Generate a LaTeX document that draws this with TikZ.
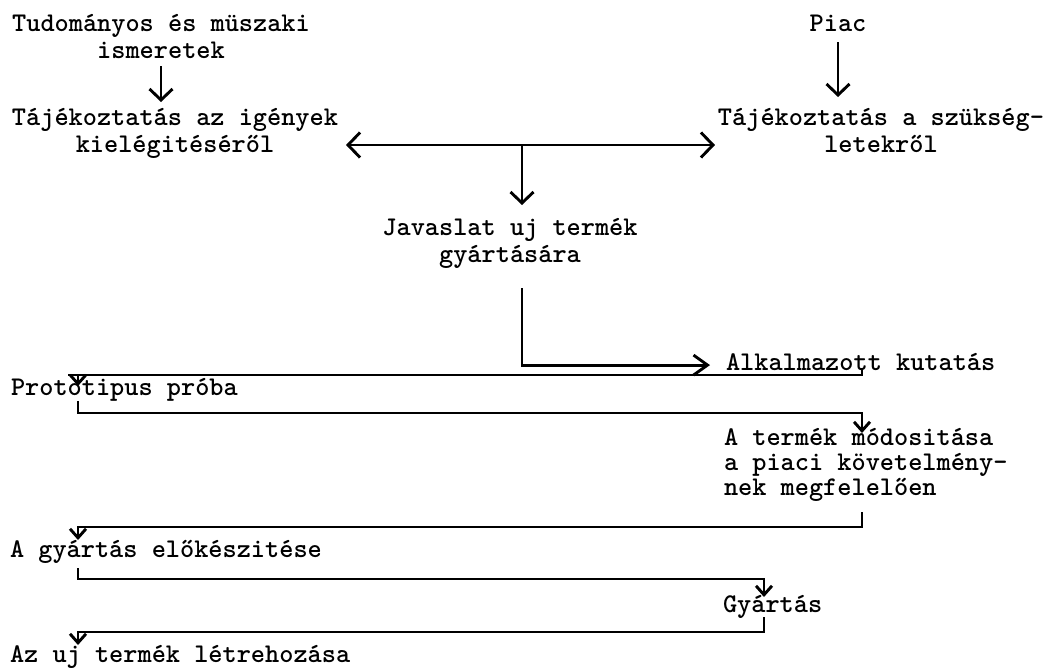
\documentclass[tikz,border=0pt]{standalone}
\usetikzlibrary{arrows.meta,calc}
% fixed height for the first line of every label, so tops line up
\newcommand\hstr{\rule{0pt}{22pt}}
\begin{document}
\begin{tikzpicture}[x=1pt,y=-1pt,
  every node/.style={inner sep=0pt, outer sep=0pt,
    font=\ttfamily\bfseries\fontsize{27}{27}\selectfont},
  lbl/.style={anchor=north west, align=left},
  clbl/.style={anchor=north, align=center},
  link/.style={line width=2.9pt, line cap=butt},
  bigtip/.style={-{Straight Barb[length=11pt,width=23pt]}},
  midtip/.style={-{Straight Barb[length=14pt,width=20pt]}},
  smalltip/.style={-{Straight Barb[length=9pt,width=16pt]}},
  bothtips/.style={{Straight Barb[length=12pt,width=25pt]}-{Straight Barb[length=12pt,width=25pt]}}
]
\fill[white] (0,0) rectangle (1054,669);
\useasboundingbox (0,0) rectangle (1054,669);

% labels
\node[clbl] (tud)  at (161,10)  {\hstr Tudományos és müszaki\\ismeretek};
\node[clbl] (taj1) at (175,103) {\hstr Tájékoztatás az igények\\kielégitéséről};
\node[clbl] (piac) at (838,10)  {\hstr Piac};
\node[clbl] (taj2) at (881,103) {\hstr Tájékoztatás a szükség-\\letekről};
\node[clbl] (jav)  at (510,213) {\hstr Javaslat uj termék\\gyártására};
\node[lbl]  (alk)  at (726,348) {\hstr Alkalmazott kutatás};
\node[lbl]  (proto) at (11,373) {\hstr Prototipus próba};
\node[lbl, font=\ttfamily\bfseries\fontsize{27}{25}\selectfont] (mod) at (724,423)
  {\hstr A termék módositása\\a piaci követelmény-\\nek megfelelően};
\node[lbl]  (gyelo) at (10,535) {\hstr A gyártás előkészitése};
\node[lbl]  (gyart) at (723,590) {\hstr Gyártás};
\node[lbl]  (uj)    at (10,640) {\hstr Az uj termék létrehozása};

% junction and column positions
\coordinate (mid) at (522,145);
\coordinate (L) at (78,0);
\coordinate (R) at (862,0);
\coordinate (M) at (764,0);

% upper part
\draw[link,bigtip] ($(tud.south)+(0,7)$) -- ($(tud.south |- taj1.north)+(0,-1)$);
\draw[link,bigtip] ($(piac.south)+(0,10)$) -- ($(piac.south |- taj2.north)+(0,-6)$);
\draw[link,bothtips] ($(taj1.east |- mid)+(8,0)$) -- ($(taj2.west |- mid)+(-3,0)$);
\draw[link,bigtip] (mid) -- ($(mid |- jav.north)+(0,-8)$);
\draw[link,midtip] ($(jav.south -| mid)+(0,20)$) |- ($(alk.west)+(-16,6)$);

% zig-zag chain of steps
\draw[link] ($(alk.south -| R)+(0,-2)$) |- ($(proto.north -| L)+(-10,2)$);
\draw[link,smalltip] ($(proto.north -| L)+(0,2)$) -- ($(proto.north -| L)+(0,13)$);
\draw[link,smalltip] (proto.south -| L) |- ($(mod.north -| R)+(0,-10)$) -- ($(mod.north -| R)+(0,10)$);
\draw[link,smalltip] ($(mod.south -| R)+(0,11)$) |- ($(gyelo.north -| L)+(0,-8)$) -- ($(gyelo.north -| L)+(0,5)$);
\draw[link,smalltip] ($(gyelo.south -| L)+(0,5)$) |- ($(gyart.north -| M)+(0,-11)$) -- ($(gyart.north -| M)+(0,7)$);
\draw[link,smalltip] ($(gyart.south -| M)+(0,-1)$) |- ($(uj.north -| L)+(0,-8)$) -- ($(uj.north -| L)+(0,5)$);
\end{tikzpicture}
\end{document}
